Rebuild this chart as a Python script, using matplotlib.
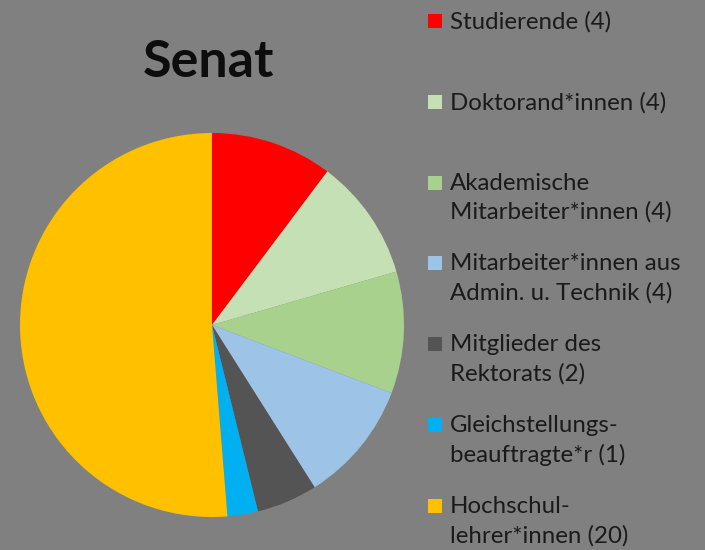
import matplotlib.pyplot as plt
from matplotlib.patches import Rectangle

labels = ['Studierende (4)', 'Doktorand*innen (4)', 'Akademische\nMitarbeiter*innen (4)',
          'Mitarbeiter*innen aus\nAdmin. u. Technik (4)', 'Mitglieder des\nRektorats (2)',
          'Gleichstellungs-\nbeauftragte*r (1)', 'Hochschul-\nlehrer*innen (20)']
values = [4, 4, 4, 4, 2, 1, 20]
colors = ['#FF0000', '#C5E0B4', '#A9D18E', '#9DC3E6', '#545454', '#00B0F0', '#FFC000']

W, H = 705, 550
bg = '#808080'
fig = plt.figure(figsize=(W / 100, H / 100), dpi=100, facecolor=bg)

# pie, centre at (212, 325) px, radius ~192 px
cx, cy, r = 212, 325, 192
ax = fig.add_axes([(cx - r) / W, (H - cy - r) / H, 2 * r / W, 2 * r / H])
ax.set_facecolor(bg)
ax.pie(values, colors=colors, startangle=90, counterclock=False, radius=1,
       wedgeprops=dict(linewidth=0))
ax.set_xlim(-1, 1)
ax.set_ylim(-1, 1)
ax.set_aspect('equal')
ax.axis('off')

fig.text(209 / W, 1 - 62 / H, 'Senat', ha='center', va='center',
         fontsize=37.5, fontweight='bold', family='Lato', color='#0d0d0d')

# legend, one entry about every 81 px
y0 = 21
step = 80.8
for i, (lab, col) in enumerate(zip(labels, colors)):
    y = y0 + step * i
    fig.add_artist(Rectangle((428 / W, 1 - (y + 7) / H), 14 / W, 14 / H,
                             transform=fig.transFigure, facecolor=col, edgecolor='none'))
    fig.text(450 / W, 1 - (y - 10) / H, lab, ha='left', va='top', fontsize=17.3,
             family='Lato', color='#1a1a1a', linespacing=1.45)

plt.savefig('out.png', dpi=100, facecolor=bg)
